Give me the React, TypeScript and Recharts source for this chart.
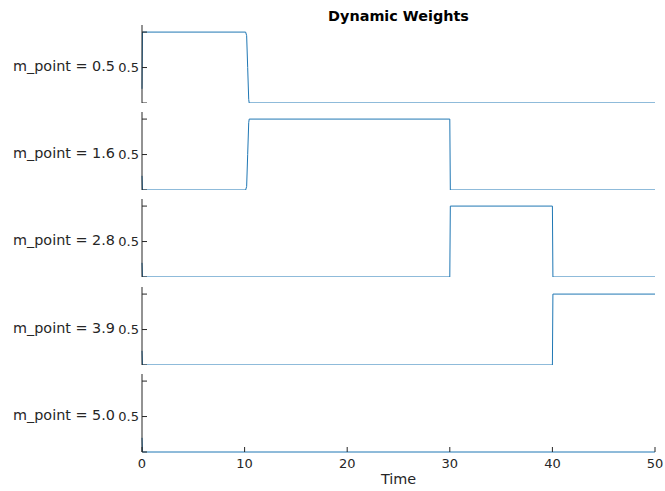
import React from 'react';
import { LineChart, Line, XAxis, YAxis } from 'recharts';

// ---- data ----
const panelLabels = ['m_point = 0.5', 'm_point = 1.6', 'm_point = 2.8', 'm_point = 3.9', 'm_point = 5.0'];

const time0 = [0, 0.05, 10.1, 10.2, 10.3, 10.4, 10.45, 50];
const weight0 = [0.2, 1, 1, 0.95, 0.5, 0.05, 0, 0];

const time1 = [0, 0.05, 10.1, 10.2, 10.3, 10.4, 10.45, 30, 30.05, 50];
const weight1 = [0.2, 0, 0, 0.05, 0.5, 0.95, 1, 1, 0, 0];

const time2 = [0, 0.05, 30, 30.05, 40, 40.05, 50];
const weight2 = [0.2, 0, 0, 1, 1, 0, 0];

const time3 = [0, 0.05, 40, 40.05, 50];
const weight3 = [0.2, 0, 0, 1, 1];

const time4 = [0, 0.05, 50];
const weight4 = [0.2, 0, 0];

const seriesTimes = [time0, time1, time2, time3, time4];
const seriesWeights = [weight0, weight1, weight2, weight3, weight4];

const xTicks = [0, 10, 20, 30, 40, 50];
const yTicks = [0, 0.5, 1];
const yTickLabels = ['', '0.5', ''];

const titleText = 'Dynamic Weights';
const xLabelText = 'Time';

// ---- style / layout ----
const FONT = '"DejaVu Sans", sans-serif';
const INK = '#262626';
const BLUE = '#1f77b4';
const W = 665;
const YAXIS_W = 142;
const RIGHT_M = 10;
const PLOT_H = 78;
const MT = 5;
const X_AXIS_H = 35;
const Y_MAX = 1.1;
const bottoms = [103, 190, 277, 365, 452];

const YTick = (props: any) => {
  const { x, y, payload } = props;
  const i = yTicks.indexOf(payload.value);
  const lab = yTickLabels[i] ?? '';
  return (
    <g>
      <line x1={x + 3} x2={x + 8} y1={y} y2={y} stroke={INK} strokeWidth={1} />
      {lab ? (
        <text x={x} y={y} dy="0.355em" textAnchor="end" fill={INK} fontSize={13} fontFamily={FONT}>
          {lab}
        </text>
      ) : null}
    </g>
  );
};

const XTick = (props: any) => {
  const { x, y, payload } = props;
  return (
    <g>
      <line x1={x} x2={x} y1={y - 7} y2={y - 12} stroke={INK} strokeWidth={1} />
      <text x={x} y={y} dy="0.71em" textAnchor="middle" fill={INK} fontSize={13} fontFamily={FONT}>
        {payload.value}
      </text>
    </g>
  );
};

export default function App() {
  return (
    <div style={{ position: 'absolute', left: 0, top: 0, width: W, height: 491, background: '#fff', fontFamily: FONT, overflow: 'hidden' }}>
      <div style={{ position: 'absolute', left: YAXIS_W, width: W - YAXIS_W - RIGHT_M, top: 7, textAlign: 'center', fontWeight: 'bold', fontSize: 14.4, lineHeight: '18px', color: '#000' }}>
        {titleText}
      </div>
      {seriesTimes.map((times, k) => {
        const isLast = k === seriesTimes.length - 1;
        const data = times.map((t, i) => ({ t, w: seriesWeights[k][i] }));
        const H = MT + PLOT_H + (isLast ? X_AXIS_H : 0);
        const top = bottoms[k] - PLOT_H - MT;
        const tickY = bottoms[k] - (0.5 / Y_MAX) * PLOT_H;
        return (
          <React.Fragment key={k}>
            <div style={{ position: 'absolute', left: 0, top }}>
              <LineChart width={W} height={H} data={data} margin={{ top: MT, right: RIGHT_M, left: 0, bottom: 0 }}>
                <XAxis
                  dataKey="t"
                  type="number"
                  domain={[0, 50]}
                  ticks={xTicks}
                  interval={0}
                  hide={!isLast}
                  height={X_AXIS_H}
                  axisLine={false}
                  tickLine={false}
                  tickSize={0}
                  tickMargin={7}
                  tick={<XTick />}
                />
                <YAxis
                  type="number"
                  domain={[0, Y_MAX]}
                  ticks={yTicks}
                  interval={0}
                  width={YAXIS_W}
                  axisLine={{ stroke: INK, strokeWidth: 1 }}
                  tickLine={false}
                  tickSize={0}
                  tickMargin={3}
                  tick={<YTick />}
                />
                <Line type="linear" dataKey="w" stroke={BLUE} strokeWidth={1} dot={false} isAnimationActive={false} />
              </LineChart>
            </div>
            <div style={{ position: 'absolute', left: 0, width: 115, top: tickY - 11, textAlign: 'right', fontSize: 14.4, lineHeight: '18px', color: INK, whiteSpace: 'nowrap' }}>
              {panelLabels[k]}
            </div>
          </React.Fragment>
        );
      })}
      <div style={{ position: 'absolute', left: YAXIS_W, width: W - YAXIS_W - RIGHT_M, top: 470, textAlign: 'center', fontSize: 14.4, lineHeight: '18px', color: INK }}>
        {xLabelText}
      </div>
    </div>
  );
}
